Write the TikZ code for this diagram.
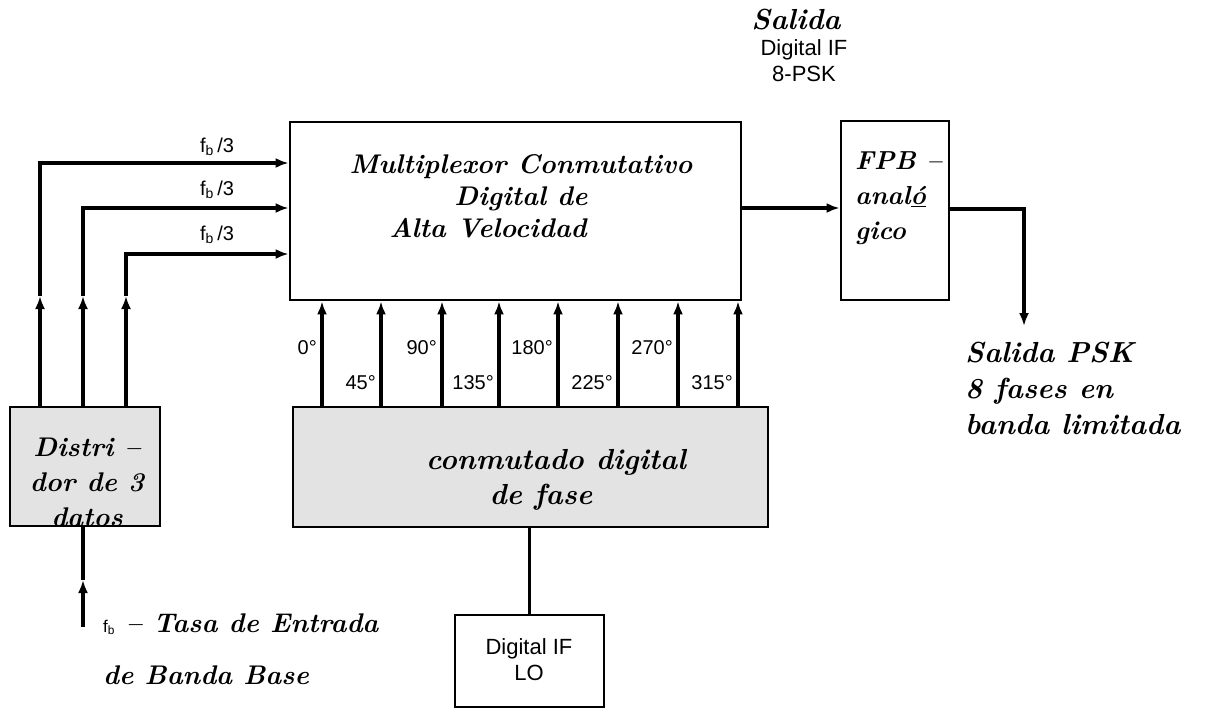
\documentclass[tikz,border=0pt]{standalone}
\usepackage{fontspec}
\newfontfamily\labelfont{Liberation Sans}
\usetikzlibrary{arrows.meta,calc}
\tikzset{
  blk/.style={draw, line width=2.8pt, inner sep=0pt},
  shaded/.style={blk, fill=black!11},
  arr/.style={line width=3.2pt, -{Latex[length=13pt,width=10pt]}},
  wire/.style={line width=3.2pt},
  hand/.style={font=\fontsize{28}{34}\selectfont\bfseries\itshape, align=center, inner sep=0pt},
  lbl/.style={font=\labelfont\fontsize{20}{22}\selectfont, inner sep=0pt},
  biglbl/.style={font=\labelfont\fontsize{22}{26}\selectfont, inner sep=0pt, align=center},
}
\begin{document}
\begin{tikzpicture}[x=1pt,y=-1pt]
\useasboundingbox (0,0) rectangle (1212,710);
% blocks
\node[blk, minimum width=451pt, minimum height=178pt] (mux) at (515.5,211) {};
\node[blk, minimum width=108pt, minimum height=179pt] (fpb) at (895,210.5) {};
\node[shaded, minimum width=150pt, minimum height=119pt] (dist) at (85,466.5) {};
\node[shaded, minimum width=475pt, minimum height=120pt] (conm) at (530.5,467) {};
\node[blk, minimum width=149pt, minimum height=92pt] (lo) at (529.5,661) {};
% texts in blocks
\node[hand, font=\fontsize{27}{32}\selectfont\bfseries\itshape] (muxt) at (521,196) {Multiplexor Conmutativo\\Digital de\hspace*{38pt}\\Alta Velocidad\hspace*{66pt}};
\node[hand, font=\fontsize{26}{35}\selectfont\bfseries\itshape, align=left, anchor=west] (fpbt) at (855,198) {FPB --\\anal\underline{ó}\\gico};
\node[hand, font=\fontsize{27}{35}\selectfont\bfseries\itshape] (distt) at (87,482) {Distri --\\dor de 3\\datos};
\node[hand, font=\fontsize{29}{35}\selectfont\bfseries\itshape] (conmt) at (556,480) {conmutado digital\\de fase\hspace*{30pt}};
\node[biglbl] (lot) at (529,660) {Digital IF\\LO};
% top output label
\node[hand, font=\fontsize{29}{34}\selectfont\bfseries\itshape] (sal) at (796,20) {Salida};
\node[biglbl] (salb) at (804,61) {Digital IF\\8-PSK};
% output label right
\node[hand, font=\fontsize{29}{36}\selectfont\bfseries\itshape, align=left, anchor=west] (psk) at (965,388) {Salida PSK\\8 fases en\\banda limitada};
% input label
\node[hand, font=\fontsize{27}{52}\selectfont\bfseries\itshape, align=left, anchor=west] (tasa) at (103,649) {{\labelfont\mdseries\upshape\fontsize{17}{18}\selectfont f\textsubscript{b}} -- Tasa de Entrada\\de Banda Base};
% f_b/3 labels
\node[lbl] (l1) at (217,147) {f\textsubscript{b}\,/3};
\node[lbl] (l2) at (217,190) {f\textsubscript{b}\,/3};
\node[lbl] (l3) at (217,235) {f\textsubscript{b}\,/3};
% distributor outputs
\coordinate (m1) at (40,296);
\coordinate (m2) at (83,296);
\coordinate (m3) at (126,296);
\draw[arr] (dist.north -| m1) -- (m1);
\draw[arr] (dist.north -| m2) -- (m2);
\draw[arr] (dist.north -| m3) -- (m3);
\draw[arr] (m1) |- (mux.west |- 0,163);
\draw[arr] (m2) |- (mux.west |- 0,208);
\draw[arr] (m3) |- (mux.west |- 0,254);
% phase lines
\foreach \x/\t/\y in {322/0°/348, 381/45°/383, 442/90°/348, 499/135°/383, 558/180°/348, 618/225°/383, 678/270°/348, 738/315°/383}{
  \draw[arr] (conm.north -| \x,0) -- (mux.south -| \x,0);
  \node[lbl, anchor=east] at (\x-5,\y) {\t};
}
% mux to fpb
\draw[arr] (mux.east |- 0,208) -- (fpb.west |- 0,208);
\coordinate (outend) at (1024,326);
\draw[arr] (fpb.east |- 0,209) -| (outend);
% input
\coordinate (inbot) at (83,627);
\coordinate (inmid) at (83,580);
\draw[arr] (inbot) -- (inmid);
\draw[wire] (inmid) -- (dist.south -| inmid);
% LO to phase switch
\draw[wire] (conm.south -| lo.north) -- (lo.north);
\end{tikzpicture}
\end{document}
